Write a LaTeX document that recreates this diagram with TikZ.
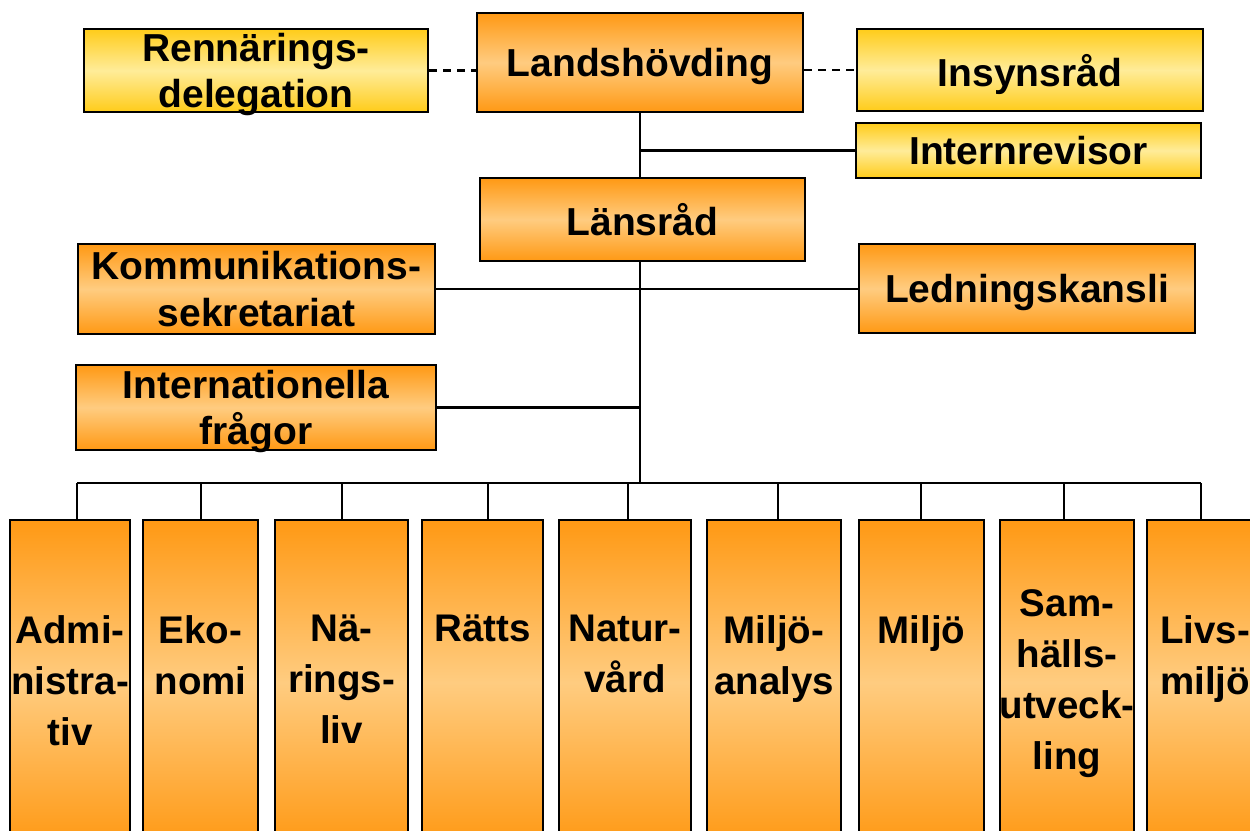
\documentclass[tikz,border=0pt]{standalone}
\usepackage{fontspec}
\setmainfont{Liberation Sans}
\definecolor{orng}{HTML}{FF9914}
\definecolor{orlight}{HTML}{FFCC80}
\definecolor{yel}{HTML}{FFCC1A}
\definecolor{yellight}{HTML}{FFEC99}
\tikzset{
  base/.style={draw=black, line width=2pt, inner sep=0pt, align=center,
    font=\fontsize{39}{46.5}\selectfont\bfseries, text depth=0pt},
  obox/.style={base, top color=orng, bottom color=orng, middle color=orlight},
  ybox/.style={base, top color=yel, bottom color=yel, middle color=yellight},
  colbox/.style={draw=black, line width=2pt, top color=orng, bottom color=orng,
    middle color=orlight, inner sep=0pt, minimum height=325pt},
  coltext/.style={anchor=north, inner sep=0pt, align=center,
    font=\fontsize{38.5}{51}\selectfont\bfseries},
  conn/.style={line width=2.5pt, black},
  dconn/.style={line width=2.5pt, black, dash pattern=on 8pt off 6pt}
}
\begin{document}
\begin{tikzpicture}[x=1pt,y=-1pt]
\clip (0,0) rectangle (1250,830);
\fill[white] (0,0) rectangle (1250,830);
% top boxes
\node[ybox, minimum width=344pt, minimum height=83pt] (ren) at (256,70.5) {Rennärings-\\delegation};
\node[obox, minimum width=326pt, minimum height=99pt] (land) at (640,62.5) {Landshövding};
\node[ybox, minimum width=346pt, minimum height=82pt] (insyn) at (1030,70) {Insynsråd};
\node[ybox, minimum width=345pt, minimum height=55pt] (intrev) at (1028.5,150.5) {Internrevisor};
\node[obox, minimum width=325pt, minimum height=83pt] (lans) at (642.5,219.5) {Länsråd};
\node[obox, minimum width=357pt, minimum height=90pt] (komm) at (256.5,289) {Kommunikations-\\sekretariat};
\node[obox, minimum width=336pt, minimum height=89pt] (led) at (1027,288.5) {Ledningskansli};
\node[obox, minimum width=360pt, minimum height=85pt] (intl) at (256,407.5) {Internationella\\frågor};
% bottom column boxes
\node[colbox, minimum width=120pt] (b1) at (70,682.5) {};
\node[colbox, minimum width=115pt] (b2) at (200.5,682.5) {};
\node[colbox, minimum width=133pt] (b3) at (341.5,682.5) {};
\node[colbox, minimum width=121pt] (b4) at (482.5,682.5) {};
\node[colbox, minimum width=132pt] (b5) at (625,682.5) {};
\node[colbox, minimum width=134pt] (b6) at (774,682.5) {};
\node[colbox, minimum width=125pt] (b7) at (921.5,682.5) {};
\node[colbox, minimum width=134pt] (b8) at (1067,682.5) {};
\node[colbox, minimum width=118pt] (b9) at (1206,682.5) {};
% column texts
\node[coltext] (t1) at (70,615) {Admi-\\nistra-\\tiv};
\node[coltext] (t2) at (200.5,615) {Eko-\\nomi};
\node[coltext] (t3) at (341.5,615) {Nä-\\rings-\\liv};
\node[coltext] (t4) at (482.5,615) {Rätts};
\node[coltext] (t5) at (625,615) {Natur-\\vård};
\node[coltext] (t6) at (774,615) {Miljö-\\analys};
\node[coltext] (t7) at (921.5,615) {Miljö};
\node[coltext] (t8) at (1067,589) {Sam-\\hälls-\\utveck-\\ling};
\node[coltext] (t9) at (1205,615) {Livs-\\miljö};
% connectors
\draw[dconn] (ren.east) -- (ren.east -| land.west);
\draw[dconn] (insyn.west -| land.east) -- (insyn.west);
\draw[conn] (land.south) -- (land.south |- lans.north);
\draw[conn] (land.south |- intrev.west) -- (intrev.west);
\coordinate (bus) at (640,483);
\draw[conn] (land.south |- lans.south) -- (bus);
\draw[conn] (komm.east) -- (komm.east -| led.west);
\draw[conn] (intl.east) -- (intl.east -| bus);
\coordinate (d1) at (77,483);
\coordinate (d2) at (201,483);
\coordinate (d3) at (342,483);
\coordinate (d4) at (488,483);
\coordinate (d5) at (628,483);
\coordinate (d6) at (778,483);
\coordinate (d7) at (921,483);
\coordinate (d8) at (1064,483);
\coordinate (d9) at (1201,483);
\draw[conn] (d1) -- (d9);
\foreach \i in {1,...,9} {\draw[conn] (d\i) -- (d\i |- b\i.north);}
\end{tikzpicture}
\end{document}
